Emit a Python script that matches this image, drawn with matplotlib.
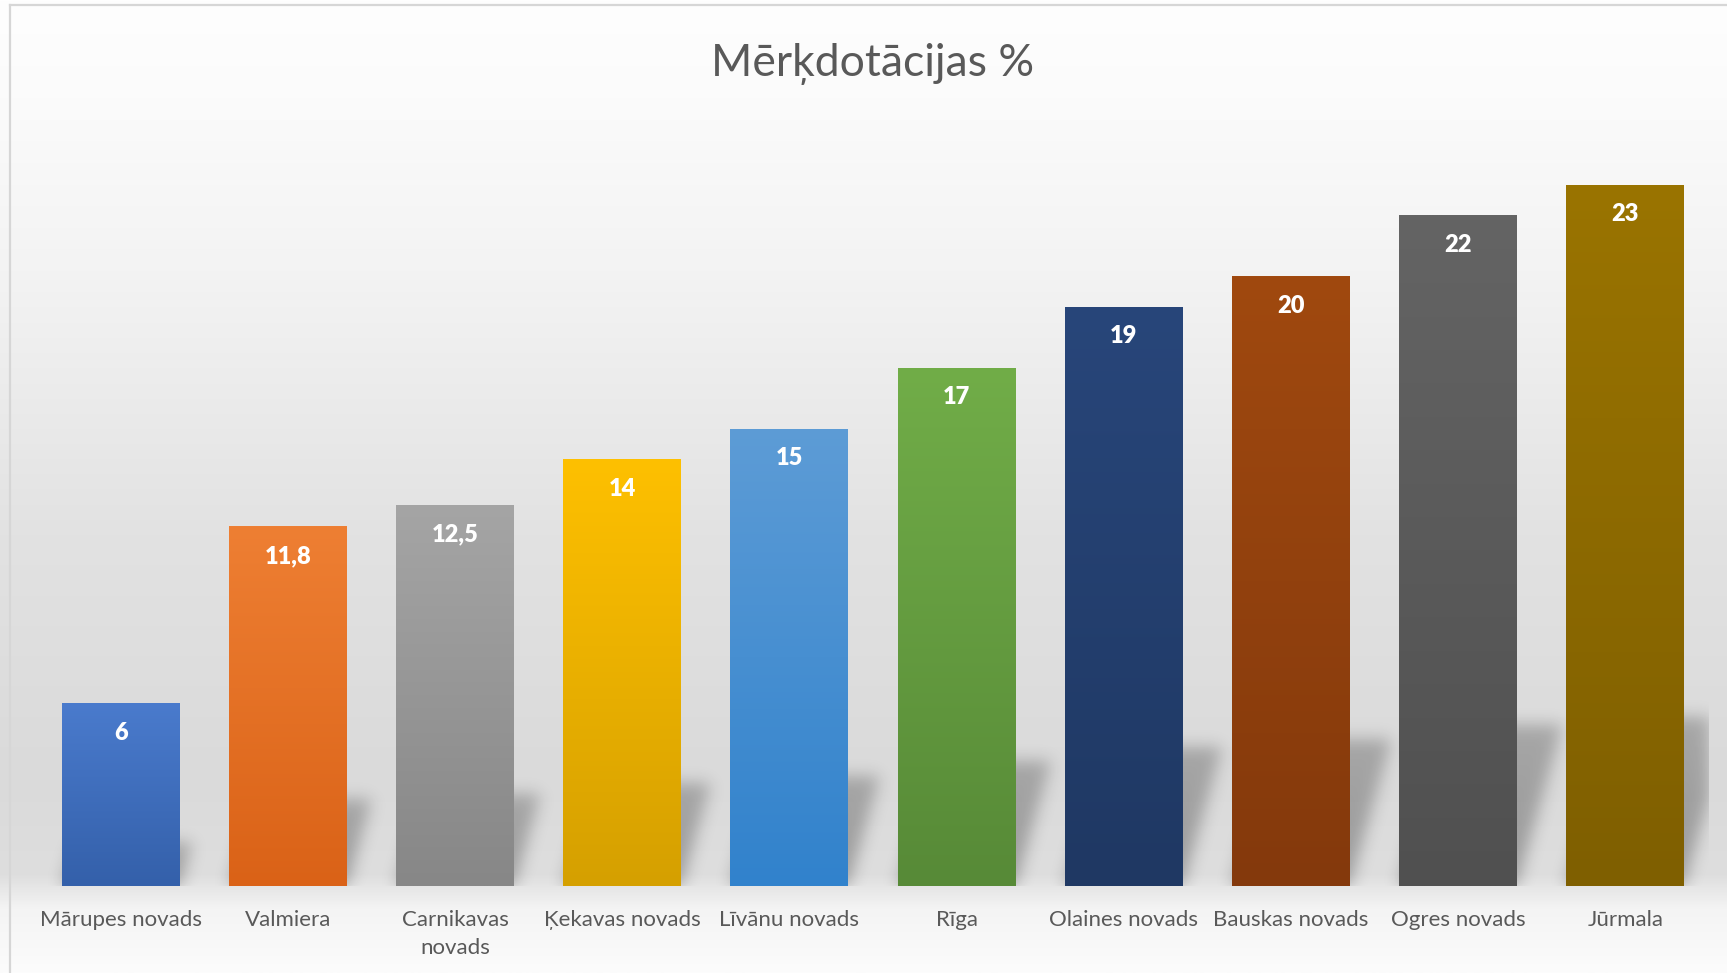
import matplotlib.pyplot as plt
from matplotlib.lines import Line2D
import matplotlib.colors as mcolors
import numpy as np

plt.rcParams['font.family'] = ['Lato', 'DejaVu Sans']

title = 'Mērķdotācijas %'
categories = ['Mārupes novads', 'Valmiera', 'Carnikavas\nnovads', 'Ķekavas novads',
              'Līvānu novads', 'Rīga', 'Olaines novads', 'Bauskas novads',
              'Ogres novads', 'Jūrmala']
values = [6, 11.8, 12.5, 14, 15, 17, 19, 20, 22, 23]

# gradient colours per bar: top -> bottom
top_colors = ['#4a7bcd', '#ee7f33', '#a5a5a5', '#fec000', '#5d9cd6',
              '#71ad48', '#28467a', '#a0490f', '#646464', '#9a7400']
bottom_colors = ['#3460aa', '#da6217', '#878787', '#d5a000', '#3182cc',
                 '#578a37', '#1f3863', '#84390c', '#505050', '#7f5f00']

W, H = 1727, 973
fig = plt.figure(figsize=(W / 100, H / 100), dpi=100)

# background gradient (white top, grey middle, light again under the bars)
bg = fig.add_axes([0, 0, 1, 1], zorder=0)
bg.axis('off')
stops = [0.0, 0.10, 0.30, 0.55, 0.80, 0.90, 0.935, 1.0]
greys = [254, 251, 242, 226, 218, 222, 244, 252]
yy = np.linspace(0, 1, 400)
g = np.interp(yy, stops, greys) / 255
bg_img = np.stack([g, g, g], axis=-1)[:, None, :].repeat(2, axis=1)
bg.imshow(bg_img, aspect='auto', extent=(0, 1, 0, 1), origin='upper')
bg.set_xlim(0, 1)
bg.set_ylim(0, 1)

# thin border (left and top, the rest is cropped in the original)
fig.add_artist(Line2D([9.5 / W, 9.5 / W], [0, 1 - 5 / H], color='#d6d6d6', lw=1.6))
fig.add_artist(Line2D([9.5 / W, 1], [1 - 5 / H, 1 - 5 / H], color='#d6d6d6', lw=1.6))

ymax = 25
ax = fig.add_axes([37 / W, 1 - 886 / H, 1672 / W, ymax * 30.5 / H], zorder=1)
ax.set_facecolor('none')

x = np.arange(len(values))
bar_w = 0.705

# soft diagonal shadows behind the bars
nx, ny = 1672, int(ymax * 30.5)
gx = np.linspace(-0.5, len(values) - 0.5, nx)
gy = np.linspace(0, ymax, ny)
XX, YY = np.meshgrid(gx, gy)
mask = np.zeros_like(XX)
for xi, v in zip(x, values):
    hgt = 0.24 * v
    shift = 0.0125 * v
    t = YY / hgt
    inside = (YY <= hgt) & (np.abs(XX - (xi + shift * t)) <= bar_w / 2)
    mask = np.maximum(mask, inside * (1 - 0.2 * np.clip(t, 0, 1)))
k = np.arange(-24, 25)
kern = np.exp(-0.5 * (k / 8.0) ** 2)
kern /= kern.sum()
mask = np.apply_along_axis(lambda r: np.convolve(r, kern, mode='same'), 0, mask)
mask = np.apply_along_axis(lambda r: np.convolve(r, kern, mode='same'), 1, mask)
shadow = np.zeros((ny, nx, 4))
shadow[..., 3] = mask * 0.3
ax.imshow(shadow, extent=(-0.5, len(values) - 0.5, 0, ymax), origin='lower',
          aspect='auto', zorder=2, interpolation='bilinear')

bars = ax.bar(x, values, width=bar_w, color='none', zorder=3)
for bar, c_top, c_bot in zip(bars, top_colors, bottom_colors):
    x0, y0 = bar.get_x(), bar.get_y()
    grad = np.linspace(0, 1, 256)[:, None, None]
    img = (1 - grad) * np.array(mcolors.to_rgb(c_top)) + grad * np.array(mcolors.to_rgb(c_bot))
    im = ax.imshow(img, extent=(x0, x0 + bar.get_width(), y0, y0 + bar.get_height()),
                   origin='upper', aspect='auto', zorder=3)
    im.set_clip_path(bar)

for xi, v in zip(x, values):
    ax.annotate(f'{v:g}'.replace('.', ','), (xi, v), xytext=(0, -21.5),
                textcoords='offset points', ha='center', va='center',
                color='white', fontweight='heavy', fontsize=17)

ax.set_xlim(-0.5, len(values) - 0.5)
ax.set_ylim(0, ymax)
ax.set_xticks(x, categories, fontsize=16, color='#595959', linespacing=1.55)
ax.tick_params(axis='x', length=0, pad=17)
ax.set_yticks([])
for s in ax.spines.values():
    s.set_visible(False)

fig.text(873 / W, 1 - 64 / H, title, ha='center', va='center',
         fontsize=32, color='#595959')

fig.savefig('out.png', dpi=100)
